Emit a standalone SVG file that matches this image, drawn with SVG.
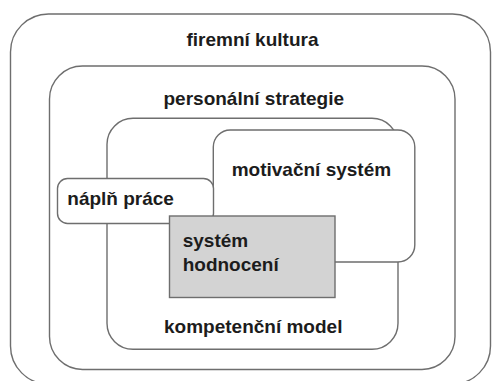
<svg xmlns="http://www.w3.org/2000/svg" width="492" height="381" viewBox="0 0 492 381">
<style>
.box{fill:#fff;stroke:#6e6e6e;stroke-width:1.4}
.grey{fill:#d3d3d3;stroke:#6e6e6e;stroke-width:1.4}
.lbl{font-family:"Liberation Sans",Arial,sans-serif;font-weight:bold;font-size:19px;fill:#1c1c1c}
</style>
<rect width="492" height="381" fill="#fff"/>
<g id="firemni-kultura">
<rect class="box" x="10.5" y="14" width="480" height="370" rx="38"/>
<text class="lbl" x="186.5" y="45.7">firemní kultura</text>
</g>
<g id="personalni-strategie">
<rect class="box" x="49.5" y="66" width="405.5" height="303.5" rx="33"/>
<text class="lbl" x="163.5" y="105">personální strategie</text>
</g>
<g id="kompetencni-model">
<rect class="box" x="107" y="118.3" width="291" height="231" rx="26"/>
<text class="lbl" x="164" y="333.3">kompetenční model</text>
</g>
<g id="motivacni-system">
<rect class="box" x="213.3" y="130" width="201.5" height="132" rx="17"/>
<text class="lbl" x="231.7" y="176">motivační systém</text>
</g>
<g id="naplne-prace">
<rect class="box" x="57.5" y="178.5" width="156" height="45" rx="10"/>
<text class="lbl" x="67.3" y="205">náplň práce</text>
</g>
<g id="system-hodnoceni">
<rect class="grey" x="169.5" y="216" width="165.5" height="81.5"/>
<text class="lbl" x="182.7" y="247">systém</text>
<text class="lbl" x="182.7" y="270.5">hodnocení</text>
</g>
<g id="connectors"/>
</svg>
